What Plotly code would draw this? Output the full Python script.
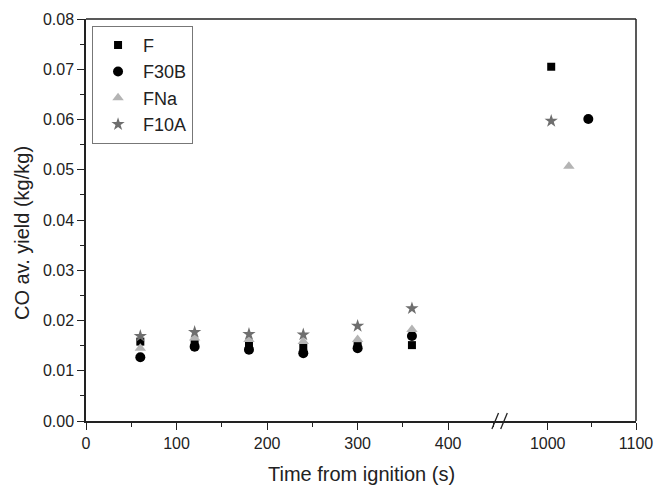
import plotly.graph_objects as go

t_early = [60, 120, 180, 240, 300, 360]
F_early = [0.0158, 0.0153, 0.0153, 0.0149, 0.0149, 0.0151]
F30B_early = [0.0127, 0.0148, 0.0142, 0.0135, 0.0145, 0.0169]
FNa_early = [0.0145, 0.0165, 0.0162, 0.0158, 0.0162, 0.0182]
F10A_early = [0.0169, 0.0177, 0.0173, 0.0172, 0.0189, 0.0224]

t_late = {"F": 1004, "F30B": 1046, "FNa": 1024, "F10A": 1004}
y_late = {"F": 0.0705, "F30B": 0.0601, "FNa": 0.0507, "F10A": 0.0597}

series = [
    ("F", F_early, dict(symbol="square", color="#000000", size=8)),
    ("F30B", F30B_early, dict(symbol="circle", color="#000000", size=10)),
    ("FNa", FNa_early, dict(symbol="triangle-up", color="#b4b4b4", size=10)),
    ("F10A", F10A_early, dict(symbol="star", color="#6e6e6e", size=10)),
]

FONT = "Liberation Sans, Arial"
INK = "#222"

fig = go.Figure()
for name, ys, m in series:
    fig.add_trace(go.Scatter(x=t_early, y=ys, mode="markers", name=name,
                             marker=dict(**m, line=dict(width=0)),
                             xaxis="x", yaxis="y"))
for name, ys, m in series:
    fig.add_trace(go.Scatter(x=[t_late[name]], y=[y_late[name]], mode="markers",
                             name=name, showlegend=False,
                             marker=dict(**m, line=dict(width=0)),
                             xaxis="x2", yaxis="y"))

brk = 0.749
axis_common = dict(showline=True, linecolor=INK, linewidth=1.5, ticks="outside",
                   ticklen=7, tickwidth=1.2, tickcolor=INK, showgrid=False,
                   zeroline=False, automargin=False,
                   tickfont=dict(family=FONT, size=16, color=INK))
minor_common = dict(ticklen=4, ticks="outside", tickcolor=INK, tickwidth=1.2)

fig.update_layout(
    width=654, height=485,
    margin=dict(l=86, r=18, t=19, b=64),
    paper_bgcolor="white", plot_bgcolor="white",
    font=dict(family=FONT, color=INK),
    xaxis=dict(domain=[0, brk], range=[0, 455], dtick=100, tick0=0,
               minor=dict(dtick=50, **minor_common),
               anchor="y", **axis_common),
    xaxis2=dict(domain=[brk, 1], range=[943.7, 1100], tickvals=[1000, 1100],
                minor=dict(tickvals=[1050], **minor_common),
                anchor="y", **axis_common),
    yaxis=dict(range=[0, 0.08], dtick=0.01, tickformat=".2f",
               minor=dict(dtick=0.005, **minor_common),
               **axis_common),
    legend=dict(x=0.011, y=0.983, xanchor="left", yanchor="top",
                bordercolor="#777", borderwidth=1, bgcolor="white",
                font=dict(family=FONT, size=18, color=INK),
                itemwidth=40, tracegroupgap=0),
    showlegend=True,
)

# frame (top and right)
fig.add_shape(type="line", xref="paper", yref="paper", x0=0, x1=1, y0=1, y1=1,
              line=dict(color=INK, width=1.5))
fig.add_shape(type="line", xref="paper", yref="paper", x0=1, x1=1, y0=0, y1=1,
              line=dict(color=INK, width=1.5))
# axis break marks
for dx in (-0.011, 0.005):
    fig.add_shape(type="line", xref="paper", yref="paper",
                  x0=brk + dx, x1=brk + dx + 0.012, y0=-0.02, y1=0.02,
                  line=dict(color=INK, width=1.3))

fig.add_annotation(text="Time from ignition (s)", xref="paper", yref="paper",
                   x=0.5, y=-0.132, xanchor="center", yanchor="middle", showarrow=False,
                   font=dict(family=FONT, size=20, color=INK))
fig.add_annotation(text="CO av. yield (kg/kg)", xref="paper", yref="paper",
                   x=-0.116, y=0.468, xanchor="center", yanchor="middle", showarrow=False,
                   textangle=-90, font=dict(family=FONT, size=20, color=INK))

fig.write_html("out.html", config={"displayModeBar": False},
               post_script="document.body.style.margin='0';document.body.style.overflow='hidden';")
